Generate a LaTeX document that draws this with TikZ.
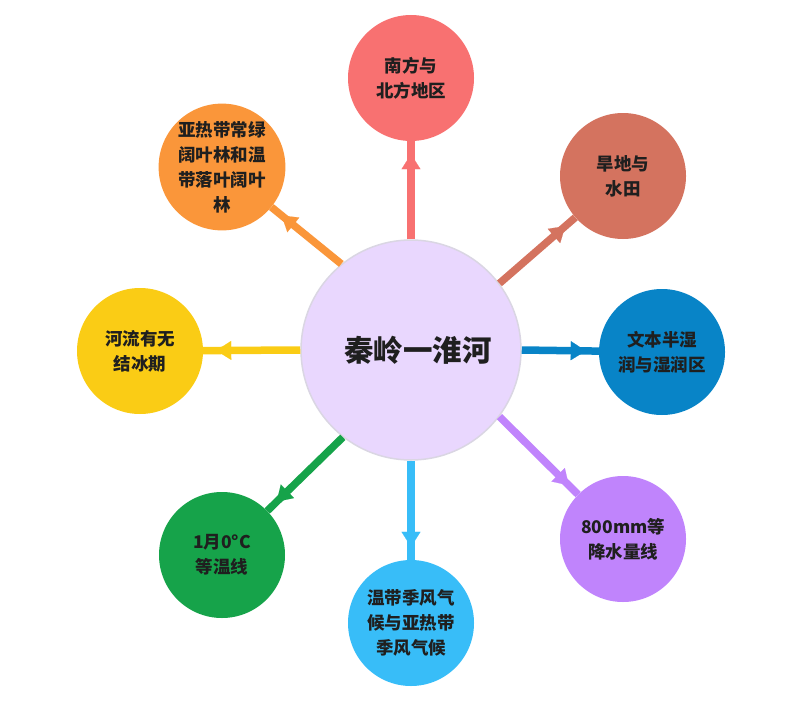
\documentclass[tikz,border=0pt]{standalone}
\usepackage{fontspec}
\setmainfont{Noto Sans CJK SC}
\usetikzlibrary{arrows.meta,decorations.markings}
\definecolor{cenfill}{HTML}{E9D7FE}
\definecolor{cenline}{HTML}{DAD6E3}
\definecolor{cred}{HTML}{F87171}
\definecolor{cora}{HTML}{FA963A}
\definecolor{cbro}{HTML}{D4735F}
\definecolor{cblu}{HTML}{0884C7}
\definecolor{cpur}{HTML}{C084FC}
\definecolor{clbl}{HTML}{38BDF8}
\definecolor{cgre}{HTML}{16A34A}
\definecolor{cyel}{HTML}{FACC15}
\definecolor{txtc}{HTML}{1F1F1F}
\begin{document}
\begin{tikzpicture}[x=1pt,y=-1pt,
  circ/.style={circle,inner sep=0pt,minimum size=126pt,align=center,text=txtc,
    font=\bfseries\fontsize{17.5}{25}\selectfont},
  conn/.style={line width=7.5pt,postaction={decorate},
    decoration={markings,mark=at position -13pt with {\arrow{Triangle[width=19pt,length=15pt,line width=0.1pt]}}}}]
\useasboundingbox (0,0) rectangle (799,706);
\node[circle,inner sep=0pt,minimum size=220pt,fill=cenfill,draw=cenline,line width=1.5pt,
  text=txtc,font=\bfseries\fontsize{29.5}{34}\selectfont] (cen) at (411,350) {\hspace*{14pt}秦岭一淮河};
\node[circ,fill=cred] (red) at (411,78) {南方与\\北方地区};
\node[circ,fill=cora] (ora) at (222,167) {亚热带常绿\\阔叶林和温\\带落叶阔叶\\林};
\node[circ,fill=cbro] (bro) at (623,176) {旱地与\\水田};
\node[circ,fill=cblu] (blu) at (662,352) {文本半湿\\润与湿润区};
\node[circ,fill=cpur] (pur) at (623,539) {800mm等\\降水量线};
\node[circ,fill=clbl] (lbl) at (411,623) {温带季风气\\候与亚热带\\季风气候};
\node[circ,fill=cgre] (gre) at (222,555) {1月0°C\\等温线};
\node[circ,fill=cyel] (yel) at (140,351) {河流有无\\结冰期};
\draw[conn,draw=cred] (cen.90) -- (red);
\draw[conn,draw=cora] (cen.129) -- (ora);
\draw[conn,draw=cbro] (cen.37.6) -- (bro);
\draw[conn,draw=cblu] (cen.0) -- (blu);
\draw[conn,draw=cpur] (cen.-37.6) -- (pur);
\draw[conn,draw=clbl] (cen.270) -- (lbl);
\draw[conn,draw=cgre] (cen.232) -- (gre);
\draw[conn,draw=cyel] (cen.180) -- (yel);
\end{tikzpicture}
\end{document}
